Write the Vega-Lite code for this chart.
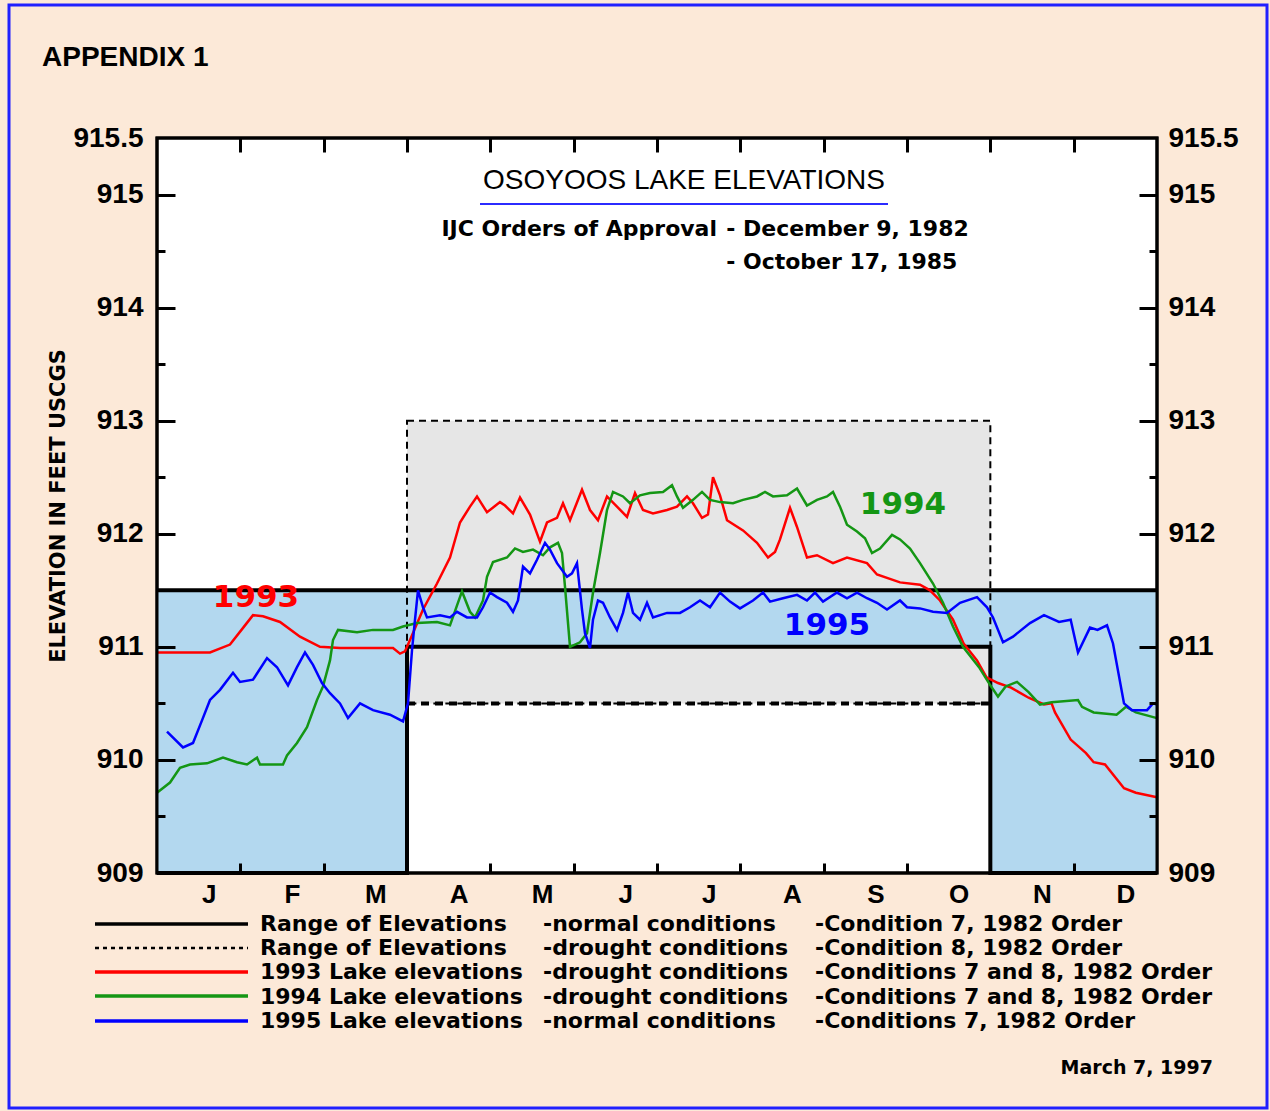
{
  "$schema": "https://vega.github.io/schema/vega-lite/v6.json",
  "width": 1000,
  "height": 735,
  "autosize": "none",
  "padding": {"left": 157, "top": 138, "right": 113, "bottom": 238},
  "background": "#fce9d8",
  "config": {
    "view": {"fill": "white", "stroke": "black", "strokeWidth": 3},
    "axis": {"domain": false, "grid": false, "labelFont": "Liberation Sans", "labelFontWeight": "bold", "labelFontSize": 28, "labelColor": "black", "tickColor": "black", "tickWidth": 3, "titleColor": "black", "labelFlush": false, "labelOverlap": false}
  },
  "resolve": {"scale": {"x": "shared", "y": "shared"}, "axis": {"x": "independent", "y": "independent"}},
  "datasets": {
    "drought": [{"from": 3, "to": 10, "low": 910.5, "high": 913}],
    "normal": [
      {"from": 0, "to": 3, "low": 909, "high": 911.5},
      {"from": 3, "to": 10, "low": 911, "high": 911.5},
      {"from": 10, "to": 12, "low": 909, "high": 911.5}
    ],
    "normal_bounds": [
      {"bound": "upper", "seq": 1, "month": 0, "elev": 911.5},
      {"bound": "upper", "seq": 2, "month": 12, "elev": 911.5},
      {"bound": "lower", "seq": 1, "month": 0, "elev": 909},
      {"bound": "lower", "seq": 2, "month": 3, "elev": 909},
      {"bound": "lower", "seq": 3, "month": 3, "elev": 911},
      {"bound": "lower", "seq": 4, "month": 10, "elev": 911},
      {"bound": "lower", "seq": 5, "month": 10, "elev": 909},
      {"bound": "lower", "seq": 6, "month": 12, "elev": 909}
    ],
    "y1993": [
      {"month":0,"elev":910.95},{"month":0.636,"elev":910.95},{"month":0.876,"elev":911.02},{"month":1.056,"elev":911.19},{"month":1.152,"elev":911.28},{"month":1.272,"elev":911.27},{"month":1.476,"elev":911.22},{"month":1.716,"elev":911.09},{"month":1.956,"elev":911.0},{"month":2.196,"elev":910.99},{"month":2.832,"elev":910.99},{"month":2.916,"elev":910.94},{"month":2.976,"elev":910.96},{"month":3.036,"elev":911.06},{"month":3.192,"elev":911.33},{"month":3.36,"elev":911.56},{"month":3.516,"elev":911.79},{"month":3.636,"elev":912.1},{"month":3.756,"elev":912.24},{"month":3.84,"elev":912.33},{"month":3.96,"elev":912.19},{"month":4.116,"elev":912.28},{"month":4.176,"elev":912.25},{"month":4.272,"elev":912.18},{"month":4.356,"elev":912.32},{"month":4.476,"elev":912.17},{"month":4.596,"elev":911.93},{"month":4.68,"elev":912.1},{"month":4.8,"elev":912.14},{"month":4.872,"elev":912.27},{"month":4.956,"elev":912.12},{"month":5.1,"elev":912.39},{"month":5.196,"elev":912.21},{"month":5.292,"elev":912.12},{"month":5.4,"elev":912.33},{"month":5.52,"elev":912.24},{"month":5.64,"elev":912.15},{"month":5.736,"elev":912.36},{"month":5.832,"elev":912.21},{"month":5.952,"elev":912.18},{"month":6.12,"elev":912.21},{"month":6.24,"elev":912.24},{"month":6.36,"elev":912.33},{"month":6.432,"elev":912.27},{"month":6.54,"elev":912.14},{"month":6.612,"elev":912.17},{"month":6.672,"elev":912.5},{"month":6.756,"elev":912.34},{"month":6.84,"elev":912.12},{"month":7.032,"elev":912.03},{"month":7.2,"elev":911.92},{"month":7.332,"elev":911.79},{"month":7.416,"elev":911.84},{"month":7.476,"elev":911.95},{"month":7.596,"elev":912.23},{"month":7.68,"elev":912.06},{"month":7.8,"elev":911.79},{"month":7.92,"elev":911.81},{"month":8.112,"elev":911.74},{"month":8.28,"elev":911.79},{"month":8.52,"elev":911.74},{"month":8.64,"elev":911.64},{"month":8.916,"elev":911.57},{"month":9.156,"elev":911.55},{"month":9.276,"elev":911.5},{"month":9.396,"elev":911.41},{"month":9.552,"elev":911.24},{"month":9.679,"elev":911.03},{"month":9.84,"elev":910.88},{"month":9.954,"elev":910.73},{"month":10.092,"elev":910.68},{"month":10.248,"elev":910.64},{"month":10.459,"elev":910.55},{"month":10.644,"elev":910.49},{"month":10.735,"elev":910.5},{"month":10.776,"elev":910.42},{"month":10.964,"elev":910.18},{"month":11.148,"elev":910.06},{"month":11.24,"elev":909.98},{"month":11.376,"elev":909.96},{"month":11.604,"elev":909.75},{"month":11.746,"elev":909.71},{"month":12,"elev":909.67}
    ],
    "y1994": [
      {"month":0,"elev":909.71},{"month":0.156,"elev":909.8},{"month":0.276,"elev":909.93},{"month":0.396,"elev":909.96},{"month":0.6,"elev":909.97},{"month":0.792,"elev":910.02},{"month":0.96,"elev":909.98},{"month":1.08,"elev":909.96},{"month":1.2,"elev":910.02},{"month":1.236,"elev":909.96},{"month":1.512,"elev":909.96},{"month":1.56,"elev":910.04},{"month":1.68,"elev":910.15},{"month":1.8,"elev":910.29},{"month":1.92,"elev":910.53},{"month":1.992,"elev":910.65},{"month":2.076,"elev":910.88},{"month":2.112,"elev":911.06},{"month":2.172,"elev":911.15},{"month":2.4,"elev":911.13},{"month":2.592,"elev":911.15},{"month":2.832,"elev":911.15},{"month":2.952,"elev":911.18},{"month":3.12,"elev":911.21},{"month":3.36,"elev":911.22},{"month":3.516,"elev":911.19},{"month":3.66,"elev":911.49},{"month":3.756,"elev":911.31},{"month":3.816,"elev":911.26},{"month":3.912,"elev":911.41},{"month":3.96,"elev":911.62},{"month":4.032,"elev":911.75},{"month":4.2,"elev":911.79},{"month":4.296,"elev":911.87},{"month":4.392,"elev":911.84},{"month":4.512,"elev":911.86},{"month":4.632,"elev":911.81},{"month":4.716,"elev":911.88},{"month":4.812,"elev":911.92},{"month":4.86,"elev":911.83},{"month":4.896,"elev":911.53},{"month":4.956,"elev":911.0},{"month":5.076,"elev":911.04},{"month":5.16,"elev":911.12},{"month":5.232,"elev":911.48},{"month":5.316,"elev":911.83},{"month":5.4,"elev":912.21},{"month":5.472,"elev":912.37},{"month":5.592,"elev":912.33},{"month":5.676,"elev":912.27},{"month":5.796,"elev":912.34},{"month":5.916,"elev":912.36},{"month":6.072,"elev":912.37},{"month":6.18,"elev":912.43},{"month":6.24,"elev":912.33},{"month":6.312,"elev":912.23},{"month":6.432,"elev":912.3},{"month":6.54,"elev":912.37},{"month":6.636,"elev":912.3},{"month":6.756,"elev":912.28},{"month":6.912,"elev":912.27},{"month":7.032,"elev":912.3},{"month":7.2,"elev":912.33},{"month":7.296,"elev":912.37},{"month":7.392,"elev":912.33},{"month":7.56,"elev":912.34},{"month":7.68,"elev":912.4},{"month":7.8,"elev":912.25},{"month":7.92,"elev":912.3},{"month":8.04,"elev":912.33},{"month":8.112,"elev":912.37},{"month":8.196,"elev":912.24},{"month":8.28,"elev":912.08},{"month":8.4,"elev":912.02},{"month":8.496,"elev":911.96},{"month":8.58,"elev":911.83},{"month":8.676,"elev":911.87},{"month":8.82,"elev":911.99},{"month":8.916,"elev":911.95},{"month":9.036,"elev":911.87},{"month":9.156,"elev":911.74},{"month":9.312,"elev":911.56},{"month":9.432,"elev":911.39},{"month":9.552,"elev":911.18},{"month":9.672,"elev":911.0},{"month":9.864,"elev":910.82},{"month":10.0,"elev":910.66},{"month":10.092,"elev":910.56},{"month":10.184,"elev":910.65},{"month":10.32,"elev":910.69},{"month":10.459,"elev":910.6},{"month":10.596,"elev":910.49},{"month":10.735,"elev":910.51},{"month":11.052,"elev":910.53},{"month":11.1,"elev":910.47},{"month":11.24,"elev":910.42},{"month":11.515,"elev":910.4},{"month":11.628,"elev":910.47},{"month":11.746,"elev":910.42},{"month":12,"elev":910.37}
    ],
    "y1995": [
      {"month":0.12,"elev":910.25},{"month":0.312,"elev":910.11},{"month":0.432,"elev":910.15},{"month":0.54,"elev":910.35},{"month":0.636,"elev":910.53},{"month":0.756,"elev":910.62},{"month":0.912,"elev":910.77},{"month":0.996,"elev":910.69},{"month":1.152,"elev":910.71},{"month":1.32,"elev":910.9},{"month":1.44,"elev":910.82},{"month":1.572,"elev":910.66},{"month":1.68,"elev":910.82},{"month":1.776,"elev":910.95},{"month":1.872,"elev":910.84},{"month":1.98,"elev":910.68},{"month":2.076,"elev":910.59},{"month":2.196,"elev":910.5},{"month":2.292,"elev":910.37},{"month":2.436,"elev":910.5},{"month":2.592,"elev":910.44},{"month":2.796,"elev":910.4},{"month":2.952,"elev":910.34},{"month":3.012,"elev":910.5},{"month":3.06,"elev":910.97},{"month":3.096,"elev":911.24},{"month":3.132,"elev":911.5},{"month":3.192,"elev":911.35},{"month":3.24,"elev":911.26},{"month":3.396,"elev":911.28},{"month":3.516,"elev":911.26},{"month":3.6,"elev":911.31},{"month":3.72,"elev":911.26},{"month":3.84,"elev":911.26},{"month":3.912,"elev":911.35},{"month":3.996,"elev":911.48},{"month":4.08,"elev":911.44},{"month":4.2,"elev":911.39},{"month":4.272,"elev":911.31},{"month":4.332,"elev":911.41},{"month":4.392,"elev":911.71},{"month":4.476,"elev":911.65},{"month":4.56,"elev":911.77},{"month":4.656,"elev":911.92},{"month":4.716,"elev":911.86},{"month":4.8,"elev":911.74},{"month":4.92,"elev":911.62},{"month":4.98,"elev":911.65},{"month":5.04,"elev":911.74},{"month":5.1,"elev":911.33},{"month":5.136,"elev":911.12},{"month":5.196,"elev":910.99},{"month":5.232,"elev":911.24},{"month":5.292,"elev":911.41},{"month":5.352,"elev":911.39},{"month":5.436,"elev":911.26},{"month":5.52,"elev":911.15},{"month":5.592,"elev":911.3},{"month":5.652,"elev":911.48},{"month":5.712,"elev":911.3},{"month":5.796,"elev":911.24},{"month":5.88,"elev":911.39},{"month":5.952,"elev":911.26},{"month":6.12,"elev":911.3},{"month":6.276,"elev":911.3},{"month":6.396,"elev":911.35},{"month":6.516,"elev":911.41},{"month":6.636,"elev":911.35},{"month":6.756,"elev":911.48},{"month":6.876,"elev":911.4},{"month":6.996,"elev":911.34},{"month":7.152,"elev":911.41},{"month":7.272,"elev":911.48},{"month":7.356,"elev":911.4},{"month":7.512,"elev":911.43},{"month":7.68,"elev":911.46},{"month":7.8,"elev":911.41},{"month":7.896,"elev":911.48},{"month":7.992,"elev":911.4},{"month":8.16,"elev":911.48},{"month":8.28,"elev":911.43},{"month":8.4,"elev":911.48},{"month":8.52,"elev":911.43},{"month":8.64,"elev":911.39},{"month":8.76,"elev":911.33},{"month":8.916,"elev":911.41},{"month":9.0,"elev":911.35},{"month":9.156,"elev":911.34},{"month":9.312,"elev":911.31},{"month":9.48,"elev":911.3},{"month":9.636,"elev":911.39},{"month":9.84,"elev":911.44},{"month":9.96,"elev":911.35},{"month":10.032,"elev":911.26},{"month":10.152,"elev":911.04},{"month":10.272,"elev":911.09},{"month":10.476,"elev":911.21},{"month":10.644,"elev":911.28},{"month":10.824,"elev":911.22},{"month":10.964,"elev":911.24},{"month":11.052,"elev":910.95},{"month":11.196,"elev":911.17},{"month":11.286,"elev":911.15},{"month":11.4,"elev":911.19},{"month":11.472,"elev":911.03},{"month":11.604,"elev":910.5},{"month":11.7,"elev":910.44},{"month":11.88,"elev":910.44},{"month":11.952,"elev":910.5},{"month":12,"elev":910.49}
    ]
  },
  "layer": [
    {
      "data": {"name": "drought"},
      "mark": {"type": "rect", "fill": "#e6e6e6"},
      "encoding": {
        "x": {"field": "from", "type": "quantitative", "scale": {"domain": [0, 12], "nice": false, "zero": false},
              "axis": {"orient": "bottom", "values": [0.62,1.62,2.62,3.62,4.62,5.62,6.62,7.62,8.62,9.62,10.62,11.62], "ticks": false, "tickSize": 0, "labelExpr": "['J','F','M','A','M','J','J','A','S','O','N','D'][floor(datum.value)]", "labelPadding": 8, "labelFontSize": 26, "title": null}},
        "x2": {"field": "to"},
        "y": {"field": "low", "type": "quantitative", "scale": {"domain": [909, 915.5], "nice": false, "zero": false},
              "axis": {"orient": "left", "values": [909,910,911,912,913,914,915,915.5], "ticks": false, "tickSize": 0, "format": ".1~f", "labelPadding": 14, "title": "ELEVATION IN FEET USCGS", "titleFont": "DejaVu Sans", "titleFontSize": 21, "titleFontWeight": "bold", "titlePadding": 4}},
        "y2": {"field": "high"}
      }
    },
    {
      "data": {"name": "normal"},
      "mark": {"type": "rect", "fill": "#b3d8ef"},
      "encoding": {
        "x": {"field": "from", "type": "quantitative", "scale": {"domain": [0, 12], "nice": false, "zero": false},
              "axis": {"orient": "top", "values": [1,2,3,4,5,6,7,8,9,10,11], "labels": false, "tickSize": -14, "zindex": 1, "title": null}},
        "x2": {"field": "to"},
        "y": {"field": "low", "type": "quantitative", "scale": {"domain": [909, 915.5], "nice": false, "zero": false},
              "axis": {"orient": "left", "values": [910,911,912,913,914,915], "labels": false, "tickSize": -18, "zindex": 1, "title": null}},
        "y2": {"field": "high"}
      }
    },
    {
      "data": {"name": "drought"},
      "mark": {"type": "rect", "filled": false, "stroke": "black", "strokeWidth": 2, "strokeDash": [7, 5]},
      "encoding": {
        "x": {"field": "from", "type": "quantitative",
              "axis": {"orient": "bottom", "values": [1,2,3,4,5,6,7,8,9,10,11], "labels": false, "tickSize": -10, "zindex": 1, "title": null}},
        "x2": {"field": "to"},
        "y": {"field": "low", "type": "quantitative",
              "axis": {"orient": "right", "values": [909,910,911,912,913,914,915,915.5], "ticks": false, "tickSize": 0, "format": ".1~f", "labelPadding": 11, "title": null}},
        "y2": {"field": "high"}
      }
    },
    {
      "data": {"name": "drought"},
      "mark": {"type": "rule", "stroke": "black", "strokeWidth": 4, "strokeDash": [8, 6]},
      "encoding": {
        "x": {"field": "from", "type": "quantitative", "axis": null},
        "x2": {"field": "to"},
        "y": {"field": "low", "type": "quantitative",
              "axis": {"orient": "right", "values": [910,911,912,913,914,915], "labels": false, "tickSize": -18, "zindex": 1, "title": null}}
      }
    },
    {
      "data": {"name": "normal_bounds"},
      "mark": {"type": "line", "stroke": "black", "strokeWidth": 4},
      "encoding": {
        "x": {"field": "month", "type": "quantitative", "axis": null},
        "y": {"field": "elev", "type": "quantitative",
              "axis": {"orient": "left", "values": [909.5,910.5,911.5,912.5,913.5,914.5], "labels": false, "tickSize": -8, "zindex": 1, "title": null}},
        "detail": {"field": "bound"},
        "order": {"field": "seq", "type": "quantitative"}
      }
    },
    {
      "data": {"name": "y1993"},
      "mark": {"type": "line", "stroke": "#ff0000", "strokeWidth": 2.5},
      "encoding": {
        "x": {"field": "month", "type": "quantitative", "axis": null},
        "y": {"field": "elev", "type": "quantitative",
              "axis": {"orient": "right", "values": [909.5,910.5,911.5,912.5,913.5,914.5], "labels": false, "tickSize": -8, "zindex": 1, "title": null}}
      }
    },
    {
      "data": {"name": "y1994"},
      "mark": {"type": "line", "stroke": "#149614", "strokeWidth": 2.5},
      "encoding": {
        "x": {"field": "month", "type": "quantitative", "axis": null},
        "y": {"field": "elev", "type": "quantitative", "axis": null}
      }
    },
    {
      "data": {"name": "y1995"},
      "mark": {"type": "line", "stroke": "#0000ff", "strokeWidth": 2.5},
      "encoding": {
        "x": {"field": "month", "type": "quantitative", "axis": null},
        "y": {"field": "elev", "type": "quantitative", "axis": null}
      }
    },
    {
      "data": {"name": "drought"},
      "mark": {"type": "rect", "filled": false, "stroke": "black", "strokeWidth": 3},
      "encoding": {
        "x": {"datum": 0, "type": "quantitative", "axis": null},
        "x2": {"datum": 12},
        "y": {"datum": 909, "type": "quantitative", "axis": null},
        "y2": {"datum": 915.5}
      }
    },
    {
      "data": {"values": [{}]},
      "mark": {"type": "text", "text": "APPENDIX 1", "font": "Liberation Sans", "fontWeight": "bold", "fontSize": 28, "align": "left", "baseline": "middle", "color": "black"},
      "encoding": {"x": {"datum": -1.38, "type": "quantitative", "axis": null}, "y": {"datum": 916.207, "type": "quantitative", "axis": null}}
    },
    {
      "data": {"values": [{}]},
      "mark": {"type": "text", "text": "OSOYOOS LAKE ELEVATIONS", "font": "Liberation Sans", "fontSize": 28, "align": "center", "baseline": "middle", "color": "black"},
      "encoding": {"x": {"datum": 6.324, "type": "quantitative", "axis": null}, "y": {"datum": 915.12, "type": "quantitative", "axis": null}}
    },
    {
      "data": {"values": [{}]},
      "mark": {"type": "rule", "stroke": "#2b2bff", "strokeWidth": 2},
      "encoding": {"x": {"datum": 3.876, "type": "quantitative", "axis": null}, "x2": {"datum": 8.772}, "y": {"datum": 914.916, "type": "quantitative", "axis": null}}
    },
    {
      "data": {"values": [{}]},
      "mark": {"type": "text", "text": "IJC Orders of Approval", "font": "DejaVu Sans", "fontWeight": "bold", "fontSize": 22, "align": "right", "baseline": "middle", "color": "black"},
      "encoding": {"x": {"datum": 6.72, "type": "quantitative", "axis": null}, "y": {"datum": 914.695, "type": "quantitative", "axis": null}}
    },
    {
      "data": {"values": [{}]},
      "mark": {"type": "text", "text": "- December 9, 1982", "font": "DejaVu Sans", "fontWeight": "bold", "fontSize": 22, "align": "left", "baseline": "middle", "color": "black"},
      "encoding": {"x": {"datum": 6.83, "type": "quantitative", "axis": null}, "y": {"datum": 914.695, "type": "quantitative", "axis": null}}
    },
    {
      "data": {"values": [{}]},
      "mark": {"type": "text", "text": "- October 17, 1985", "font": "DejaVu Sans", "fontWeight": "bold", "fontSize": 22, "align": "left", "baseline": "middle", "color": "black"},
      "encoding": {"x": {"datum": 6.83, "type": "quantitative", "axis": null}, "y": {"datum": 914.403, "type": "quantitative", "axis": null}}
    },
    {
      "data": {"values": [{}]},
      "mark": {"type": "text", "text": "1993", "font": "DejaVu Sans", "fontWeight": "bold", "fontSize": 31, "align": "center", "baseline": "middle", "color": "#ff0000"},
      "encoding": {"x": {"datum": 1.188, "type": "quantitative", "axis": null}, "y": {"datum": 911.432, "type": "quantitative", "axis": null}}
    },
    {
      "data": {"values": [{}]},
      "mark": {"type": "text", "text": "1994", "font": "DejaVu Sans", "fontWeight": "bold", "fontSize": 31, "align": "center", "baseline": "middle", "color": "#149614"},
      "encoding": {"x": {"datum": 8.952, "type": "quantitative", "axis": null}, "y": {"datum": 912.255, "type": "quantitative", "axis": null}}
    },
    {
      "data": {"values": [{}]},
      "mark": {"type": "text", "text": "1995", "font": "DejaVu Sans", "fontWeight": "bold", "fontSize": 31, "align": "center", "baseline": "middle", "color": "#0000ff"},
      "encoding": {"x": {"datum": 8.04, "type": "quantitative", "axis": null}, "y": {"datum": 911.184, "type": "quantitative", "axis": null}}
    },
    {
      "data": {"values": [{}]},
      "mark": {"type": "rule", "stroke": "black", "strokeWidth": 3.5},
      "encoding": {"x": {"datum": -0.744, "type": "quantitative", "axis": null}, "x2": {"datum": 1.092}, "y": {"datum": 908.549, "type": "quantitative", "axis": null}}
    },
    {
      "data": {"values": [{}]},
      "mark": {"type": "rule", "stroke": "black", "strokeWidth": 2.5, "strokeDash": [4, 4]},
      "encoding": {"x": {"datum": -0.744, "type": "quantitative", "axis": null}, "x2": {"datum": 1.092}, "y": {"datum": 908.337, "type": "quantitative", "axis": null}}
    },
    {
      "data": {"values": [{}]},
      "mark": {"type": "rule", "stroke": "#ff0000", "strokeWidth": 3.5},
      "encoding": {"x": {"datum": -0.744, "type": "quantitative", "axis": null}, "x2": {"datum": 1.092}, "y": {"datum": 908.125, "type": "quantitative", "axis": null}}
    },
    {
      "data": {"values": [{}]},
      "mark": {"type": "rule", "stroke": "#149614", "strokeWidth": 3.5},
      "encoding": {"x": {"datum": -0.744, "type": "quantitative", "axis": null}, "x2": {"datum": 1.092}, "y": {"datum": 907.912, "type": "quantitative", "axis": null}}
    },
    {
      "data": {"values": [{}]},
      "mark": {"type": "rule", "stroke": "#0000ff", "strokeWidth": 3.5},
      "encoding": {"x": {"datum": -0.744, "type": "quantitative", "axis": null}, "x2": {"datum": 1.092}, "y": {"datum": 907.691, "type": "quantitative", "axis": null}}
    },
    {
      "data": {"values": [{}]},
      "mark": {"type": "text", "text": ["Range of Elevations", "Range of Elevations", "1993 Lake elevations", "1994 Lake elevations", "1995 Lake elevations"], "lineHeight": 24.25, "font": "DejaVu Sans", "fontWeight": "bold", "fontSize": 22, "align": "left", "baseline": "middle", "color": "black"},
      "encoding": {"x": {"datum": 1.236, "type": "quantitative", "axis": null}, "y": {"datum": 908.549, "type": "quantitative", "axis": null}}
    },
    {
      "data": {"values": [{}]},
      "mark": {"type": "text", "text": ["-normal conditions", "-drought conditions", "-drought conditions", "-drought conditions", "-normal conditions"], "lineHeight": 24.25, "font": "DejaVu Sans", "fontWeight": "bold", "fontSize": 22, "align": "left", "baseline": "middle", "color": "black"},
      "encoding": {"x": {"datum": 4.632, "type": "quantitative", "axis": null}, "y": {"datum": 908.549, "type": "quantitative", "axis": null}}
    },
    {
      "data": {"values": [{}]},
      "mark": {"type": "text", "text": ["-Condition 7, 1982 Order", "-Condition 8, 1982 Order", "-Conditions 7 and 8, 1982 Order", "-Conditions 7 and 8, 1982 Order", "-Conditions 7, 1982 Order"], "lineHeight": 24.25, "font": "DejaVu Sans", "fontWeight": "bold", "fontSize": 22, "align": "left", "baseline": "middle", "color": "black"},
      "encoding": {"x": {"datum": 7.896, "type": "quantitative", "axis": null}, "y": {"datum": 908.549, "type": "quantitative", "axis": null}}
    },
    {
      "data": {"values": [{}]},
      "mark": {"type": "text", "text": "March 7, 1997", "font": "DejaVu Sans", "fontWeight": "bold", "fontSize": 19, "align": "right", "baseline": "middle", "color": "black"},
      "encoding": {"x": {"datum": 12.672, "type": "quantitative", "axis": null}, "y": {"datum": 907.276, "type": "quantitative", "axis": null}}
    },
    {
      "data": {"values": [{}]},
      "mark": {"type": "rect", "filled": false, "stroke": "#2020ff", "strokeWidth": 3},
      "encoding": {"x": {"datum": -1.776, "type": "quantitative", "axis": null}, "x2": {"datum": 13.32}, "y": {"datum": 916.676, "type": "quantitative", "axis": null}, "y2": {"datum": 906.922}}
    }
  ]
}
